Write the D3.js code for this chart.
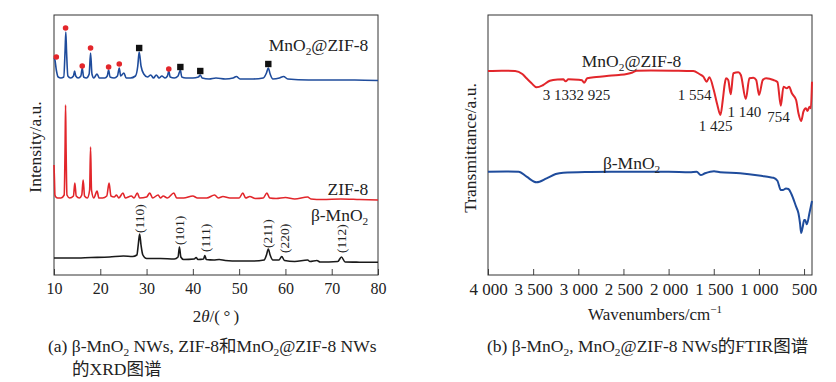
<!DOCTYPE html>
<html>
<head>
<meta charset="utf-8">
<script src="https://cdnjs.cloudflare.com/ajax/libs/d3/7.8.5/d3.min.js"></script>
<style>
  body { margin: 0; background: #fff; }
  svg text { font-family: "Liberation Serif", "Noto Sans CJK SC", serif !important; fill: #222; }
</style>
</head>
<body>
<div id="chart"></div>
<script>
"use strict";

// ---- data (intensity / transmittance in arbitrary, stacked units) ----
var xrdTicks = [10, 20, 30, 40, 50, 60, 70, 80];
var ftirTicks = [4000, 3500, 3000, 2500, 2000, 1500, 1000, 500];

// MnO2@ZIF-8 XRD, [2theta, intensity]
var xrdComposite = [
  [10.0, 217], [10.2, 215], [10.5, 205], [10.9, 198], [11.5, 197], [12.1, 198], [12.4, 225], [12.55, 243],
  [12.7, 225], [13.0, 199], [13.6, 197], [14.2, 199], [14.45, 204], [14.7, 199], [15.2, 197], [15.8, 199],
  [16.1, 207], [16.4, 198], [17.0, 197], [17.6, 201], [17.9, 222], [18.2, 201], [18.6, 197], [19.3, 201],
  [19.8, 197], [21.0, 197], [21.5, 199], [21.8, 205], [22.1, 198], [23.0, 197], [23.7, 199], [24.1, 207],
  [24.4, 199], [25.1, 202], [25.6, 197], [26.5, 197], [27.6, 199], [28.1, 209], [28.4, 223], [28.8, 209],
  [29.4, 201], [30.2, 198], [30.9, 200], [31.5, 197], [32.1, 200], [32.7, 197], [33.3, 199], [34.0, 197],
  [34.5, 199], [34.8, 204], [35.1, 198], [36.0, 197], [36.8, 199], [37.3, 205], [37.6, 198], [38.5, 197],
  [40.0, 197], [41.2, 198], [41.6, 200], [42.0, 197], [43.5, 196], [45.0, 197], [47.0, 196], [48.7, 197],
  [49.4, 198.5], [50.2, 196], [53.0, 196], [55.2, 197], [55.9, 202], [56.3, 207], [56.7, 201], [57.3, 196],
  [58.7, 197], [59.6, 198.5], [60.5, 196], [65, 195], [70, 195], [75, 195], [80, 194.5]
];

// ZIF-8 XRD
var xrdZif8 = [
  [10.0, 110], [10.1, 95], [10.2, 80], [10.4, 78], [10.8, 77], [11.5, 77], [12.2, 80], [12.4, 130],
  [12.5, 170], [12.6, 130], [12.8, 80], [13.4, 77], [14.2, 79], [14.5, 92], [14.8, 79], [15.5, 77],
  [16.0, 80], [16.3, 95], [16.6, 79], [17.2, 77], [17.7, 85], [17.9, 128], [18.1, 85], [18.6, 77],
  [19.3, 84], [19.7, 77], [20.5, 77], [21.4, 79], [21.9, 92], [22.3, 79], [23.0, 78], [23.5, 80],
  [24.0, 77], [24.9, 82], [25.4, 77], [26.7, 79], [27.3, 77], [28.0, 82], [28.5, 77], [30.0, 78],
  [30.7, 82], [31.3, 77], [32.5, 80], [33.0, 77], [33.6, 79], [34.5, 77], [35.9, 82], [36.5, 77],
  [38.0, 77], [40.0, 79], [41.0, 77], [43.0, 77], [44.7, 80], [45.5, 77], [46.5, 78.5], [48, 77],
  [50.0, 77], [50.8, 82], [51.4, 77], [52.3, 78.5], [53.5, 76.5], [55.2, 77], [56.0, 82], [56.6, 77],
  [58.0, 76.5], [60, 77.5], [62, 76], [64.8, 78], [65.5, 76], [68, 75.5], [72, 76], [76, 75.5], [80, 75]
];

// beta-MnO2 XRD
var xrdMnO2 = [
  [10, 17], [14, 17], [18, 17.5], [22, 18], [25, 19], [27, 18.5], [27.9, 20], [28.2, 30], [28.5, 41],
  [28.8, 30], [29.2, 20], [30, 16.5], [33, 16.5], [36, 16], [36.8, 18], [37.1, 28], [37.4, 18], [38, 15.5],
  [40.3, 16], [40.7, 17.5], [41.1, 15.5], [42.3, 16], [42.6, 19.5], [42.9, 15.5], [44.5, 15], [45.7, 15.5],
  [47, 14.5], [50, 14], [53, 14], [55.4, 15], [55.9, 20], [56.3, 26], [56.7, 20], [57.3, 15], [58.6, 15],
  [59.2, 18.5], [59.8, 14.5], [62, 13.5], [64.8, 15], [65.3, 13.5], [66.8, 14.5], [67.5, 13], [71.3, 13.5],
  [72.1, 18], [72.9, 13], [76, 12.8], [80, 12.7]
];

// phase markers on the composite pattern
var zifDots = [[10.5, 218], [12.5, 247], [16.1, 209], [17.9, 227], [21.8, 208], [24.1, 211], [34.8, 206]];
var mno2Squares = [[28.4, 227], [37.3, 208], [41.6, 204], [56.3, 211]];

// Miller indices of beta-MnO2
var millerLabels = [["(110)", 28.5, 42], ["(101)", 37.2, 30], ["(111)", 42.7, 23],
                    ["(211)", 56.2, 27], ["(220)", 59.8, 22], ["(112)", 72.2, 22]];

var xrdNames = [["MnO_2_@ZIF-8", 77.9, 224], ["ZIF-8", 77.9, 80], ["β-MnO_2_", 77.9, 54.5]];

// FTIR, [wavenumber, transmittance]
var ftirComposite = [
  [4000, 204], [3850, 204.3], [3700, 204], [3620, 201], [3573, 196.7], [3520, 192], [3462, 187.7],
  [3389, 190], [3315, 194.3], [3230, 195.5], [3167, 195.7], [3140, 193.7], [3110, 195.7], [3000, 195.3],
  [2960, 194.8], [2935, 192.3], [2901, 196.7], [2800, 198], [2686, 199], [2550, 200], [2464, 201],
  [2400, 202.5], [2354, 204.3], [2200, 204.5], [1948, 204.3], [1800, 204], [1726, 204], [1660, 201],
  [1615, 198.3], [1578, 193.3], [1549, 197.7], [1500, 185], [1460, 170], [1426, 160], [1400, 175],
  [1380, 190], [1364, 196.7], [1340, 195], [1312, 180.7], [1283, 201.7], [1228, 202.7], [1200, 200],
  [1145, 176], [1105, 196.7], [1061, 197.3], [1030, 195], [998, 180], [957, 195], [920, 196.7],
  [839, 195], [795, 193], [757, 169.3], [728, 188.3], [691, 186.7], [665, 188.3], [635, 181.7],
  [588, 175], [562, 161.7], [532, 154], [507, 163.3], [480, 166.7], [462, 164], [440, 168.3],
  [425, 166.7], [412, 193.3]
];

var ftirMnO2 = [
  [4000, 103.3], [3800, 103.5], [3660, 103.3], [3573, 98.3], [3462, 92.7], [3351, 96.7], [3250, 101],
  [3167, 102.3], [2871, 103], [2500, 103.3], [2000, 103.3], [1766, 102.7], [1689, 103.3], [1644, 100],
  [1596, 101.7], [1497, 103.7], [1430, 102.7], [1208, 101.7], [1000, 99.5], [876, 97.7], [839, 97.3],
  [795, 94.3], [757, 85], [735, 85], [700, 86.5], [673, 86], [640, 81], [588, 68.3], [562, 61.7],
  [545, 52], [532, 42], [515, 48], [499, 55], [488, 55], [469, 50.7], [440, 62], [412, 74]
];

// band labels [text, wavenumber, transmittance, anchor]
var ftirNotes = [["3 1332 925", 3019, 180, "middle"], ["1 554", 1525, 180.5, "end"],
                 ["1 425", 1479, 149, "middle"], ["1 140", 1160, 163.5, "middle"], ["754", 782, 158, "middle"]];
var ftirNames = [["MnO_2_@ZIF-8", 2410, 208.5], ["β-MnO_2_", 2410, 106.5]];

// ---- drawing ----
var FONT = '"Liberation Serif", "Noto Sans CJK SC", serif';
var svg = d3.select("#chart").append("svg").attr("width", 836).attr("height", 382)
  .attr("font-family", FONT);

var xA = d3.scaleLinear().domain([10, 80]).range([54, 378]);
var xB = d3.scaleLinear().domain([4000, 412]).range([488, 812]);
var y = d3.scaleLinear().domain([0, 260]).range([275, 15]);

// text with _sub_, ^sup^ and *italic* parts
function rich(g, str, x, yy, size, anchor) {
  var t = g.append("text").attr("x", x).attr("y", yy).attr("font-family", FONT)
    .attr("font-size", size + "px").attr("text-anchor", anchor || "start");
  var shift = 0;
  str.split(/(_[^_]+_|\^[^^]+\^|\*[^*]+\*)/).forEach(function (p) {
    if (!p) return;
    var target = 0, s;
    if (p[0] === "_") { target = size * 0.25; s = t.append("tspan").text(p.slice(1, -1)).attr("font-size", size * 0.65 + "px"); }
    else if (p[0] === "^") { target = -size * 0.4; s = t.append("tspan").text(p.slice(1, -1)).attr("font-size", size * 0.65 + "px"); }
    else if (p[0] === "*") { s = t.append("tspan").text(p.slice(1, -1)).attr("font-style", "italic"); }
    else { s = t.append("tspan").text(p); }
    if (target !== shift) { s.attr("dy", target - shift); shift = target; }
  });
  return t;
}

function panel(x, ticks, fmt, fs) {
  var g = svg.append("g");
  var ax = d3.axisBottom(x).tickValues(ticks).tickSize(-6).tickSizeOuter(0).tickPadding(8).tickFormat(fmt);
  var ga = g.append("g").attr("transform", "translate(0,275)").call(ax);
  ga.select(".domain").remove();
  ga.attr("color", "#444").attr("font-family", FONT);
  ga.selectAll("text").style("font-size", fs + "px").style("font-family", FONT);
  var r = x.range();
  g.append("rect").attr("x", r[0]).attr("y", 15).attr("width", r[1] - r[0]).attr("height", 260)
    .attr("fill", "none").attr("stroke", "#333").attr("stroke-width", 1);
  return g;
}

function trace(g, x, data, color, w) {
  var line = d3.line().x(function (d) { return x(d[0]); }).y(function (d) { return y(d[1]); })
    .curve(d3.curveMonotoneX);
  g.append("path").datum(data).attr("d", line).attr("fill", "none")
    .attr("stroke", color).attr("stroke-width", w).attr("stroke-linejoin", "round");
}

// (a) XRD
var gA = panel(xA, xrdTicks, d3.format("d"), 16);
trace(gA, xA, xrdMnO2, "#1a1a1a", 1.6);
trace(gA, xA, xrdZif8, "#e2262b", 1.6);
trace(gA, xA, xrdComposite, "#1f4c9c", 1.6);

gA.selectAll(".dot").data(zifDots).enter().append("circle")
  .attr("cx", function (d) { return xA(d[0]); }).attr("cy", function (d) { return y(d[1]); })
  .attr("r", 2.8).attr("fill", "#e3262b");
gA.selectAll(".sq").data(mno2Squares).enter().append("rect")
  .attr("x", function (d) { return xA(d[0]) - 3.2; }).attr("y", function (d) { return y(d[1]) - 3.2; })
  .attr("width", 6.4).attr("height", 6.4).attr("fill", "#111");

millerLabels.forEach(function (m) {
  gA.append("text").text(m[0]).attr("font-family", FONT)
    .attr("transform", "translate(" + xA(m[1]) + "," + y(m[2]) + ") rotate(-90)")
    .attr("dominant-baseline", "central").attr("font-size", "13.5px");
});
xrdNames.forEach(function (n) { rich(gA, n[0], xA(n[1]), y(n[2]), 17.5, "end"); });

rich(gA, "2*θ*/(\u2009°\u2009)", 216, 322, 17, "middle");
svg.append("text").text("Intensity/a.u.").attr("font-size", "17.5px").attr("font-family", FONT)
  .attr("text-anchor", "middle").attr("dominant-baseline", "central")
  .attr("transform", "translate(35,147) rotate(-90)");
rich(svg, "(a) β-MnO_2_ NWs, ZIF-8和MnO_2_@ZIF-8 NWs", 48, 352, 17.5, "start");
rich(svg, "的XRD图谱", 72, 375, 17.5, "start");

// (b) FTIR
var gB = panel(xB, ftirTicks, function (d) { return d3.format(",")(d).replace(",", " "); }, 17);
trace(gB, xB, ftirMnO2, "#1f4c9c", 2);
trace(gB, xB, ftirComposite, "#e2262b", 2);

ftirNotes.forEach(function (n) {
  gB.append("text").text(n[0]).attr("x", xB(n[1])).attr("y", y(n[2])).attr("font-family", FONT)
    .attr("text-anchor", n[3]).attr("dominant-baseline", "central").attr("font-size", "15px");
});
ftirNames.forEach(function (n) { rich(gB, n[0], xB(n[1]), y(n[2]), 17.5, "middle"); });

rich(svg, "Wavenumbers/cm^−1^", 655, 320, 17, "middle");
svg.append("text").text("Transmittance/a.u.").attr("font-size", "17.5px").attr("font-family", FONT)
  .attr("text-anchor", "middle").attr("dominant-baseline", "central")
  .attr("transform", "translate(470,148) rotate(-90)");
rich(svg, "(b) β-MnO_2_, MnO_2_@ZIF-8 NWs的FTIR图谱", 487, 352, 17.5, "start");
</script>
</body>
</html>
